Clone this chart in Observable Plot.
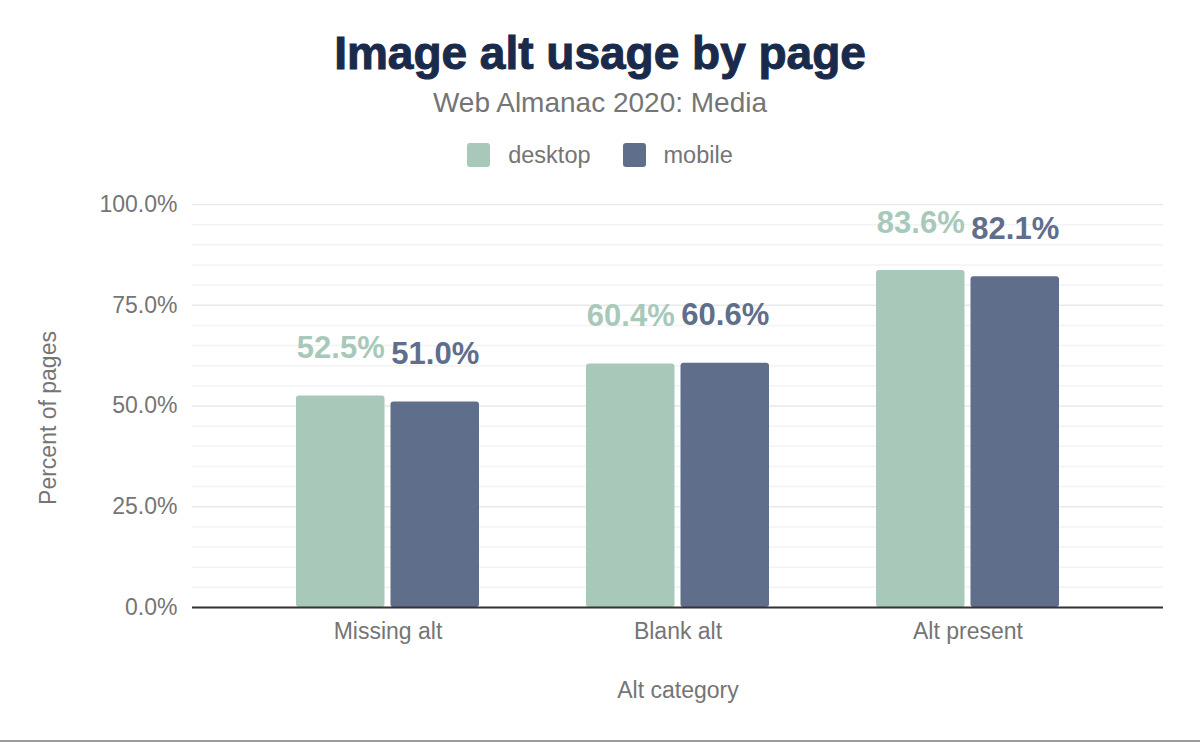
<!DOCTYPE html>
<html>
<head>
<meta charset="utf-8">
<script src="https://cdn.jsdelivr.net/npm/d3@7"></script>
<script src="https://cdn.jsdelivr.net/npm/@observablehq/plot@0.6"></script>
<style>
  html, body { margin: 0; padding: 0; background: #fff; }
  body { width: 1200px; height: 742px; position: relative; overflow: hidden; font-family: "Liberation Sans", Arial, Helvetica, sans-serif; }
  .title { position: absolute; left: 0; width: 1200px; top: 30px; text-align: center; font-size: 46px; line-height: 46px; font-weight: 900; color: #1a2a4b; -webkit-text-stroke: 1px #1a2a4b; }
  .subtitle { position: absolute; left: 0; width: 1200px; top: 89px; text-align: center; font-size: 28px; line-height: 28px; color: #757575; }
  .legend { position: absolute; left: 0; width: 1200px; top: 143px; height: 24px; display: flex; justify-content: center; align-items: center; font-size: 23.5px; color: #757575; }
  .legend .item { display: flex; align-items: center; margin: 0 16px; }
  .legend .sw { width: 23px; height: 24px; border-radius: 3px; margin-right: 18px; }
  #chart { position: absolute; left: 0; top: 180px; }
  .bottomline { position: absolute; left: 0; top: 740px; width: 1200px; height: 2px; background: #9a9a9a; }
</style>
</head>
<body>
<div class="title">Image alt usage by page</div>
<div class="subtitle">Web Almanac 2020: Media</div>
<div class="legend" id="legend"></div>
<div id="chart"></div>
<div class="bottomline"></div>
<script>
const categories = ["Missing alt", "Blank alt", "Alt present"];
const devices = ["desktop", "mobile"];
const desktopValues = [52.5, 60.4, 83.6];
const mobileValues = [51.0, 60.6, 82.1];
const colors = ["#a8c9b9", "#5f6f8b"];
const yTicks = [0, 25, 50, 75, 100];
const minorTicks = [5, 10, 15, 20, 30, 35, 40, 45, 55, 60, 65, 70, 80, 85, 90, 95];
const yLabel = "Percent of pages";
const xLabel = "Alt category";

const data = categories.flatMap((c, i) => [
  {category: c, device: devices[0], value: desktopValues[i]},
  {category: c, device: devices[1], value: mobileValues[i]}
]);
const desktopData = data.filter(d => d.device === devices[0]);
const mobileData = data.filter(d => d.device === devices[1]);

// legend
const legend = document.getElementById("legend");
devices.forEach((d, i) => {
  const item = document.createElement("div");
  item.className = "item";
  const sw = document.createElement("div");
  sw.className = "sw";
  sw.style.background = colors[i];
  const t = document.createElement("span");
  t.textContent = d;
  item.appendChild(sw); item.appendChild(t);
  legend.appendChild(item);
});

const fmt = v => v.toFixed(1) + "%";

// layout styles: each category band holds two bars side by side
const barInsetOuter = 3, barInsetInner = 97.5, labelShift = 47.25;

const plot = Plot.plot({
  width: 1200,
  height: 560,
  marginTop: 24,
  marginBottom: 133,
  marginLeft: 192,
  marginRight: 37,
  style: {fontFamily: "'Liberation Sans', Arial, sans-serif", fontSize: "23px", color: "#757575", background: "#fff"},
  x: {domain: categories, padding: 0.348, label: xLabel},
  y: {domain: [0, 100], label: yLabel},
  color: {type: "ordinal", domain: devices, range: colors},
  marks: [
    Plot.gridY(minorTicks, {stroke: "#f3f3f3", strokeOpacity: 1, strokeWidth: 1.5}),
    Plot.gridY(yTicks, {stroke: "#e9e9e9", strokeOpacity: 1, strokeWidth: 1.5}),
    Plot.axisY(yTicks, {tickFormat: fmt, tickSize: 0, tickPadding: 15, fontSize: 23, fill: "#757575", label: null}),
    Plot.text([yLabel], {text: d => d, frameAnchor: "left", textAnchor: "middle", rotate: -90, dx: -144, dy: 12, fill: "#757575", fontSize: 23}),
    Plot.barY(desktopData, {x: "category", y: "value", fill: "device", insetLeft: barInsetOuter, insetRight: barInsetInner, rx: 3}),
    Plot.barY(mobileData, {x: "category", y: "value", fill: "device", insetLeft: barInsetInner, insetRight: barInsetOuter, rx: 3}),
    Plot.text(desktopData, {x: "category", y: "value", text: d => fmt(d.value), fill: "device", fontSize: 31, fontWeight: "bold", lineAnchor: "bottom", dy: -38, dx: -labelShift}),
    Plot.text(mobileData, {x: "category", y: "value", text: d => fmt(d.value), fill: "device", fontSize: 31, fontWeight: "bold", lineAnchor: "bottom", dy: -38, dx: labelShift}),
    Plot.ruleY([0], {stroke: "#333", strokeWidth: 2}),
    Plot.axisX({tickSize: 0, tickPadding: 15, fontSize: 23, fill: "#757575", label: xLabel, labelAnchor: "center", labelOffset: 90})
  ]
});
document.getElementById("chart").appendChild(plot);
</script>
</body>
</html>
